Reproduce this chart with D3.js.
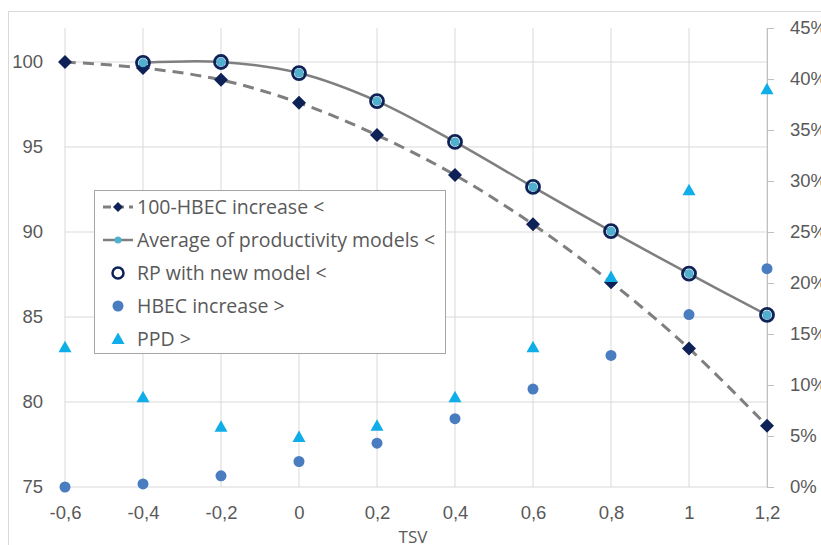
<!DOCTYPE html>
<html>
<head>
<meta charset="utf-8">
<script src="https://cdn.jsdelivr.net/npm/d3@7"></script>
<style>
  body { margin: 0; background: #fff; }
  svg { display: block; font-family: "Open Sans", sans-serif; }
  .tick text { fill: #595959; }
</style>
</head>
<body>
<svg id="chart" width="821" height="545"></svg>
<script>
// TSV categories
const tsv = [-0.6, -0.4, -0.2, 0, 0.2, 0.4, 0.6, 0.8, 1, 1.2];
const xTickLabels = ['-0,6', '-0,4', '-0,2', '0', '0,2', '0,4', '0,6', '0,8', '1', '1,2'];

// left axis series
const hbec100 = [100, 99.65, 98.95, 97.6, 95.7, 93.35, 90.45, 87.05, 83.15, 78.6];
const avgProductivity = [null, 99.95, 100, 99.35, 97.7, 95.3, 92.65, 90.05, 87.55, 85.12];
const rpNewModel = [null, 99.95, 100, 99.35, 97.7, 95.3, 92.65, 90.05, 87.55, 85.12];

// right axis series (fractions)
const hbecIncrease = [0, 0.003, 0.011, 0.025, 0.043, 0.067, 0.096, 0.129, 0.169, 0.214];
const ppd = [0.137, 0.088, 0.059, 0.049, 0.06, 0.088, 0.137, 0.206, 0.291, 0.39];

const leftTicks = [75, 80, 85, 90, 95, 100];
const rightTicks = [0, 0.05, 0.1, 0.15, 0.2, 0.25, 0.3, 0.35, 0.4, 0.45];

const legendItems = [
  '100-HBEC increase <',
  'Average of productivity models <',
  'RP with new model <',
  'HBEC increase >',
  'PPD >'
];

const colors = {
  navy: '#0e2257',
  line: '#7f7f7f',
  avg: '#4fb0cf',
  hbec: '#4a7dc0',
  ppd: '#10aee8',
  grid: '#d9d9d9',
  text: '#595959'
};

const svg = d3.select('#chart');

const x = d3.scaleLinear().domain([-0.6, 1.2]).range([65, 767]);
const yL = d3.scaleLinear().domain([75, 102]).range([487, 28]);
const yR = d3.scaleLinear().domain([0, 0.45]).range([487, 28]);

// outer frame (cropped in the picture)
svg.append('rect')
  .attr('x', 8.5).attr('y', 11.5)
  .attr('width', 830).attr('height', 560)
  .attr('fill', 'none')
  .attr('stroke', colors.grid);

// gridlines
svg.append('g')
  .selectAll('line')
  .data(leftTicks)
  .join('line')
  .attr('x1', x(-0.6)).attr('x2', x(1.2))
  .attr('y1', d => yL(d)).attr('y2', d => yL(d))
  .attr('stroke', colors.grid);

svg.append('g')
  .selectAll('line')
  .data(tsv)
  .join('line')
  .attr('x1', d => x(d)).attr('x2', d => x(d))
  .attr('y1', yR(0.45)).attr('y2', yL(75))
  .attr('stroke', colors.grid);

// axes
const xAxis = svg.append('g')
  .attr('transform', `translate(0, ${yL(75)})`)
  .call(d3.axisBottom(x).tickValues(tsv).tickSize(0).tickPadding(19)
    .tickFormat((d, i) => xTickLabels[i]));
xAxis.select('.domain').remove();
xAxis.selectAll('text').style('font-size', '18.5px');

const leftAxis = svg.append('g')
  .attr('transform', `translate(${x(-0.6)}, 0)`)
  .call(d3.axisLeft(yL).tickValues(leftTicks).tickSize(0).tickPadding(22));
leftAxis.select('.domain').remove();
leftAxis.selectAll('text').style('font-size', '18.5px');

const rightAxis = svg.append('g')
  .attr('transform', `translate(${x(1.2)}, 0)`)
  .call(d3.axisRight(yR).tickValues(rightTicks).tickSize(7).tickPadding(16)
    .tickFormat(d3.format('.0%')));
rightAxis.select('.domain').attr('stroke', '#bfbfbf');
rightAxis.selectAll('.tick line').attr('stroke', '#bfbfbf');
rightAxis.selectAll('text').style('font-size', '18.5px');

svg.append('text')
  .attr('x', 413).attr('y', 543)
  .attr('text-anchor', 'middle')
  .attr('fill', colors.text)
  .style('font-size', '17px')
  .text('TSV');

// lines
const line = yScale => d3.line()
  .x(d => x(d[0]))
  .y(d => yScale(d[1]))
  .curve(d3.curveCatmullRom);

svg.append('path')
  .datum(d3.zip(tsv, hbec100))
  .attr('d', line(yL))
  .attr('fill', 'none')
  .attr('stroke', colors.line)
  .attr('stroke-width', 3)
  .attr('stroke-dasharray', '11,7');

svg.append('path')
  .datum(d3.zip(tsv, avgProductivity).filter(d => d[1] !== null))
  .attr('d', line(yL))
  .attr('fill', 'none')
  .attr('stroke', colors.line)
  .attr('stroke-width', 2.5);

const diamond = 'M0,-7L7,0L0,7L-7,0Z';
const triangle = 'M0,-6.5L6.5,5L-6.5,5Z';

// 100-HBEC diamonds
svg.append('g')
  .selectAll('path')
  .data(d3.zip(tsv, hbec100))
  .join('path')
  .attr('d', diamond)
  .attr('transform', d => `translate(${x(d[0])}, ${yL(d[1])})`)
  .attr('fill', colors.navy);

// average markers
svg.append('g')
  .selectAll('circle')
  .data(d3.zip(tsv, avgProductivity).filter(d => d[1] !== null))
  .join('circle')
  .attr('cx', d => x(d[0])).attr('cy', d => yL(d[1]))
  .attr('r', 4.5)
  .attr('fill', colors.avg);

// RP hollow circles
svg.append('g')
  .selectAll('circle')
  .data(d3.zip(tsv, rpNewModel).filter(d => d[1] !== null))
  .join('circle')
  .attr('cx', d => x(d[0])).attr('cy', d => yL(d[1]))
  .attr('r', 6.5)
  .attr('fill', 'none')
  .attr('stroke', colors.navy)
  .attr('stroke-width', 2.8);

// HBEC increase circles
svg.append('g')
  .selectAll('circle')
  .data(d3.zip(tsv, hbecIncrease))
  .join('circle')
  .attr('cx', d => x(d[0])).attr('cy', d => yR(d[1]))
  .attr('r', 5.5)
  .attr('fill', colors.hbec);

// PPD triangles
svg.append('g')
  .selectAll('path')
  .data(d3.zip(tsv, ppd))
  .join('path')
  .attr('d', triangle)
  .attr('transform', d => `translate(${x(d[0])}, ${yR(d[1])})`)
  .attr('fill', colors.ppd);

// legend
const legend = svg.append('g');
legend.append('rect')
  .attr('x', 94.5).attr('y', 190.5)
  .attr('width', 351).attr('height', 163)
  .attr('fill', '#fff')
  .attr('stroke', '#a6a6a6');

const rowY = i => 207 + i * 33;
const sx = 118;

legendItems.forEach((label, i) => {
  const g = legend.append('g').attr('transform', `translate(0, ${rowY(i)})`);
  if (i === 0) {
    g.append('line').attr('x1', 103).attr('x2', 133)
      .attr('stroke', colors.line).attr('stroke-width', 3).attr('stroke-dasharray', '8,5');
    g.append('path').attr('d', 'M0,-5L5,0L0,5L-5,0Z')
      .attr('transform', `translate(${sx}, 0)`).attr('fill', colors.navy);
  } else if (i === 1) {
    g.append('line').attr('x1', 103).attr('x2', 133)
      .attr('stroke', colors.line).attr('stroke-width', 2.5);
    g.append('circle').attr('cx', sx).attr('r', 3.5).attr('fill', colors.avg);
  } else if (i === 2) {
    g.append('circle').attr('cx', sx).attr('r', 5.5)
      .attr('fill', 'none').attr('stroke', colors.navy).attr('stroke-width', 2.5);
  } else if (i === 3) {
    g.append('circle').attr('cx', sx).attr('r', 5.5).attr('fill', colors.hbec);
  } else {
    g.append('path').attr('d', triangle)
      .attr('transform', `translate(${sx}, 0)`).attr('fill', colors.ppd);
  }
  g.append('text')
    .attr('x', 137).attr('dy', '0.35em')
    .attr('fill', colors.text)
    .style('font-size', '19.5px')
    .text(label);
});
</script>
</body>
</html>
